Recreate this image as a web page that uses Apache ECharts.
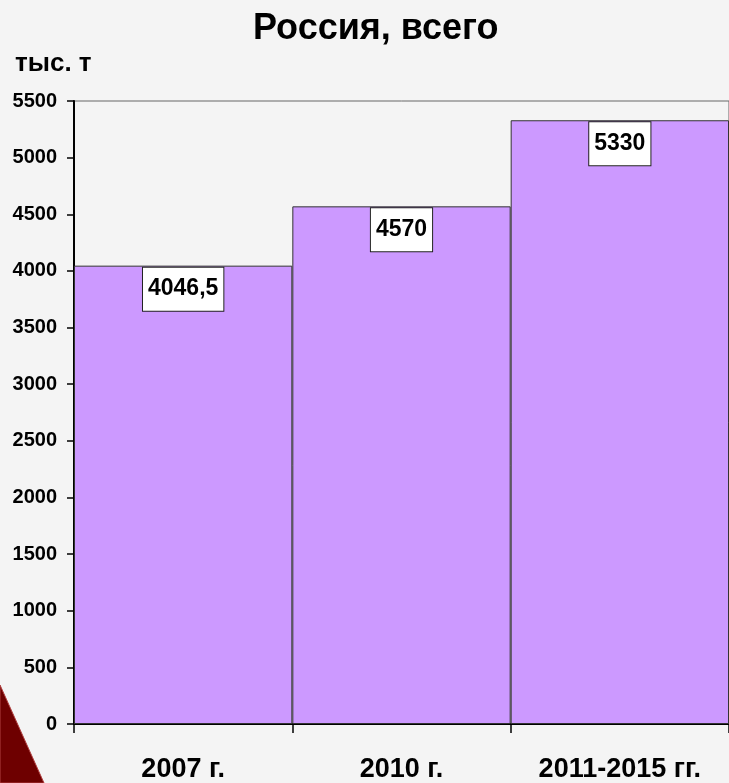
<!DOCTYPE html>
<html>
<head>
<meta charset="utf-8">
<script src="https://cdn.jsdelivr.net/npm/echarts@6/dist/echarts.min.js"></script>
<style>
html,body{margin:0;padding:0;background:#F4F4F4;}
#c{width:729px;height:783px;}
</style>
</head>
<body>
<div id="c"></div>
<script>
const categories = ['2007 г.', '2010 г.', '2011-2015 гг.'];
const values = [4046.5, 4570, 5330];
const valueLabels = ['4046,5', '4570', '5330'];
const chartTitle = 'Россия, всего';
const unitLabel = 'тыс. т';

const chart = echarts.init(document.getElementById('c'));
const font = '"Liberation Sans", Arial, sans-serif';
chart.setOption({
  backgroundColor: '#F4F4F4',
  animation: false,
  title: [
    { text: chartTitle, left: 248, top: 6,
      textStyle: { fontFamily: font, fontSize: 36, fontWeight: 'bold', color: '#000' } },
    { text: unitLabel, left: 10, top: 46,
      textStyle: { fontFamily: font, fontSize: 26, fontWeight: 'bold', color: '#000' } }
  ],
  graphic: [
    { type: 'polygon', shape: { points: [[0, 685], [44, 783], [0, 783]] },
      style: { fill: '#6E0000', stroke: '#B04040', lineWidth: 1 }, z: -1 }
  ],
  grid: { left: 74, top: 101, width: 657, height: 625, show: true,
          borderColor: '#666', borderWidth: 1, backgroundColor: 'transparent' },
  xAxis: {
    type: 'category', data: categories,
    axisLine: { lineStyle: { color: '#000', width: 2 } },
    axisTick: { show: true, alignWithLabel: false, length: 9, lineStyle: { color: '#000', width: 1.5 } },
    axisLabel: { margin: 32, color: '#000', fontFamily: font, fontSize: 27, fontWeight: 'bold', interval: 0 }
  },
  yAxis: {
    type: 'value', min: 0, max: 5500, interval: 500,
    splitLine: { show: false },
    axisLine: { show: true, lineStyle: { color: '#000', width: 2 } },
    axisTick: { show: true, length: 7, lineStyle: { color: '#000', width: 1.5 } },
    axisLabel: { margin: 17, color: '#000', fontFamily: font, fontSize: 20, fontWeight: 'bold',
                 formatter: v => String(v) }
  },
  series: [{
    type: 'bar', data: values, barCategoryGap: '0%',
    itemStyle: { color: '#CC99FF', borderColor: '#333', borderWidth: 1 },
    label: {
      show: true, position: 'insideTop', distance: 2,
      formatter: p => valueLabels[p.dataIndex],
      color: '#000', fontFamily: font, fontSize: 23, fontWeight: 'bold',
      backgroundColor: '#fff', borderColor: '#222', borderWidth: 1,
      padding: [10, 5, 10, 5], lineHeight: 23
    }
  }]
});
</script>
</body>
</html>
